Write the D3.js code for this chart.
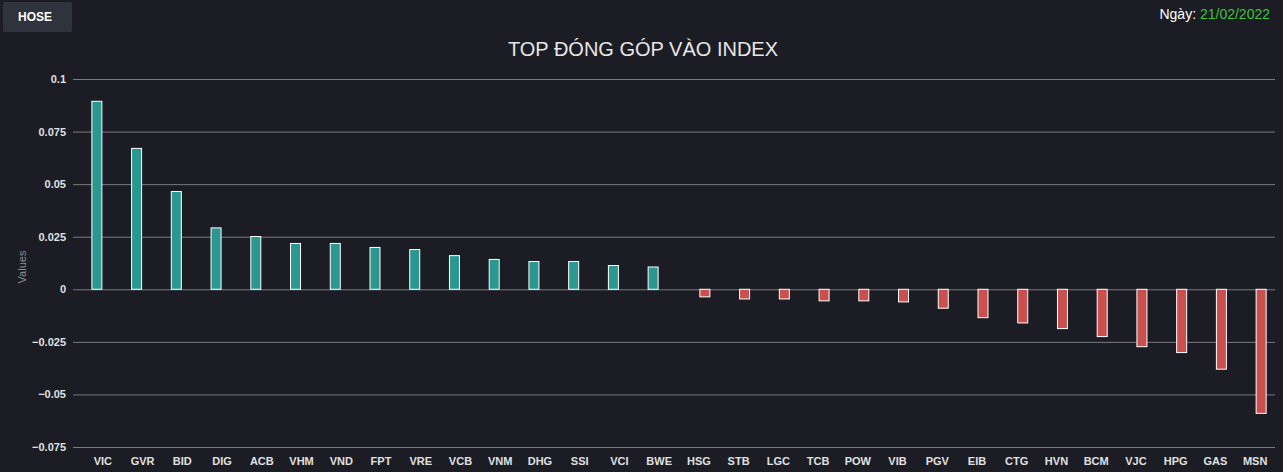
<!DOCTYPE html>
<html>
<head>
<meta charset="utf-8">
<script src="https://cdn.jsdelivr.net/npm/d3@7"></script>
<style>
  body { margin: 0; background: #1c1c24; font-family: Arial, "Liberation Sans", sans-serif; }
  svg { display: block; }
</style>
</head>
<body>
<svg width="1283" height="472"></svg>
<script>
var tickers = ["VIC", "GVR", "BID", "DIG", "ACB", "VHM", "VND", "FPT", "VRE", "VCB",
    "VNM", "DHG", "SSI", "VCI", "BWE", "HSG", "STB", "LGC", "TCB", "POW",
    "VIB", "PGV", "EIB", "CTG", "HVN", "BCM", "VJC", "HPG", "GAS", "MSN"];

var contrib = [0.0894, 0.067, 0.0465, 0.0292, 0.0251, 0.0218, 0.0218, 0.0199, 0.0189, 0.016,
    0.0142, 0.0132, 0.0132, 0.0113, 0.0106, -0.0036, -0.0046, -0.0046, -0.0055, -0.0055,
    -0.006, -0.009, -0.0135, -0.016, -0.0187, -0.0225, -0.0273, -0.0301, -0.038, -0.059];

var seriesNames = ["tang", "giam"];
var seriesColors = ["#2a9890", "#c9504f"];

var yTicks = [0.1, 0.075, 0.05, 0.025, 0, -0.025, -0.05, -0.075];

var svg = d3.select("svg");

// top left button
svg.append("rect")
    .attr("x", 3).attr("y", 2)
    .attr("width", 69).attr("height", 30)
    .attr("rx", 2)
    .attr("fill", "#2e333d");
svg.append("text")
    .attr("x", 35).attr("y", 21)
    .attr("text-anchor", "middle")
    .attr("fill", "#fff")
    .style("font-size", "12px")
    .style("font-weight", "bold")
    .text("HOSE");

// date
var dateText = svg.append("text")
    .attr("x", 1270).attr("y", 19)
    .attr("text-anchor", "end")
    .style("font-size", "14px");
dateText.append("tspan").attr("fill", "#fff").text("Ngày: ");
dateText.append("tspan").attr("fill", "#3cc43c").text("21/02/2022");

// title
svg.append("text")
    .attr("x", 643).attr("y", 56)
    .attr("text-anchor", "middle")
    .attr("fill", "#e6e6e6")
    .style("font-size", "20px")
    .text("TOP ĐÓNG GÓP VÀO INDEX");

var x = d3.scaleBand()
    .domain(tickers)
    .range([83, 1275]);

// two series slots inside each category
var x1 = d3.scaleBand()
    .domain(seriesNames)
    .range([x.bandwidth() / 2 - 12, x.bandwidth() / 2 + 12]);

var y = d3.scaleLinear()
    .domain([-0.075, 0.1])
    .range([447, 79]);

// gridlines + y labels
var yAxis = d3.axisLeft(y)
    .tickValues(yTicks)
    .tickSize(-(1275 - 73))
    .tickPadding(7)
    .tickFormat(function(d) { return d3.format("")(+d.toFixed(3)); });

var gy = svg.append("g")
    .attr("transform", "translate(73,0)")
    .call(yAxis);
gy.select(".domain").remove();
gy.selectAll(".tick line").attr("stroke", "#7a7a80").attr("stroke-width", 1);
gy.selectAll(".tick text")
    .attr("fill", "#e0e0e0")
    .style("font-size", "11px")
    .style("font-weight", "bold")
    .style("font-family", "Arial, 'Liberation Sans', sans-serif");

// x labels
var xAxis = d3.axisBottom(x).tickSize(0).tickPadding(10);
var gx = svg.append("g")
    .attr("transform", "translate(0,447)")
    .call(xAxis);
gx.select(".domain").remove();
gx.selectAll(".tick text")
    .attr("fill", "#e0e0e0")
    .style("font-size", "11px")
    .style("font-weight", "bold")
    .style("font-family", "Arial, 'Liberation Sans', sans-serif");

// y axis title
svg.append("text")
    .attr("transform", "translate(26,267) rotate(-90)")
    .attr("text-anchor", "middle")
    .attr("fill", "#8c8c92")
    .style("font-size", "11px")
    .text("Values");

// bars
var barW = 10;
svg.selectAll(".bar")
    .data(contrib)
    .enter().append("rect")
    .attr("class", "bar")
    .attr("x", function(d, i) {
        var s = d >= 0 ? seriesNames[0] : seriesNames[1];
        return x(tickers[i]) + x1(s) + x1.bandwidth() / 2 - barW / 2;
    })
    .attr("y", function(d) { return y(Math.max(0, d)); })
    .attr("width", barW)
    .attr("height", function(d) { return Math.abs(y(d) - y(0)); })
    .attr("fill", function(d) { return d >= 0 ? seriesColors[0] : seriesColors[1]; })
    .attr("stroke", "#fff")
    .attr("stroke-width", 1);
</script>
</body>
</html>
